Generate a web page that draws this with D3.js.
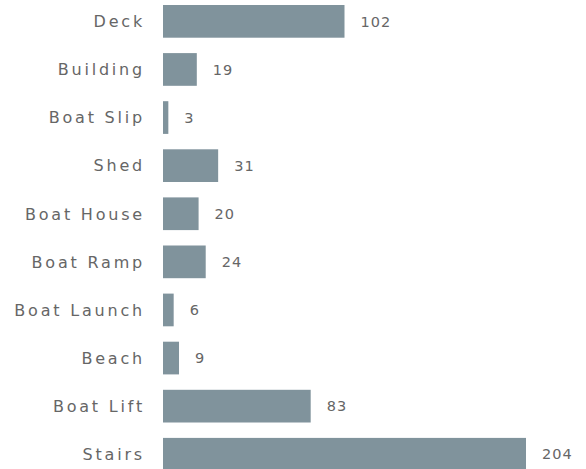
<!DOCTYPE html>
<html><head><meta charset="utf-8">
<script src="https://cdn.jsdelivr.net/npm/d3@7"></script>
<style>html,body{margin:0;padding:0;background:#fff;}</style>
</head><body>
<svg id="c" width="586" height="469"></svg>
<script>
const categories = ["Deck","Building","Boat Slip","Shed","Boat House","Boat Ramp","Boat Launch","Beach","Boat Lift","Stairs"];
const values = [102,19,3,31,20,24,6,9,83,204];

const svg = d3.select("#c");
const x = d3.scaleLinear().domain([0,204]).range([163,526]);
const y = d3.scaleBand().domain(categories).range([-2.7,478.3]).paddingInner(0.32).paddingOuter(0.16);
const font = "'DejaVu Sans', sans-serif";

svg.selectAll("rect.bar").data(categories).join("rect")
  .attr("class","bar")
  .attr("x", x(0))
  .attr("y", d=>y(d))
  .attr("width", (d,i)=>x(values[i])-x(0))
  .attr("height", y.bandwidth())
  .attr("fill","#80939c");

svg.selectAll("text.cat").data(categories).join("text")
  .attr("class","cat")
  .attr("x", 145)
  .attr("y", d=>y(d)+y.bandwidth()/2)
  .attr("dy","0.36em")
  .attr("text-anchor","end")
  .attr("font-family",font)
  .attr("font-size",16)
  .attr("letter-spacing","2.8px")
  .attr("fill","#666")
  .text(d=>d);

svg.selectAll("text.val").data(categories).join("text")
  .attr("class","val")
  .attr("x", (d,i)=>x(values[i])+16)
  .attr("y", d=>y(d)+y.bandwidth()/2)
  .attr("dy","0.36em")
  .attr("font-family",font)
  .attr("font-size",14.5)
  .attr("letter-spacing","1px")
  .attr("fill","#666")
  .text((d,i)=>values[i]);
</script>
</body></html>
